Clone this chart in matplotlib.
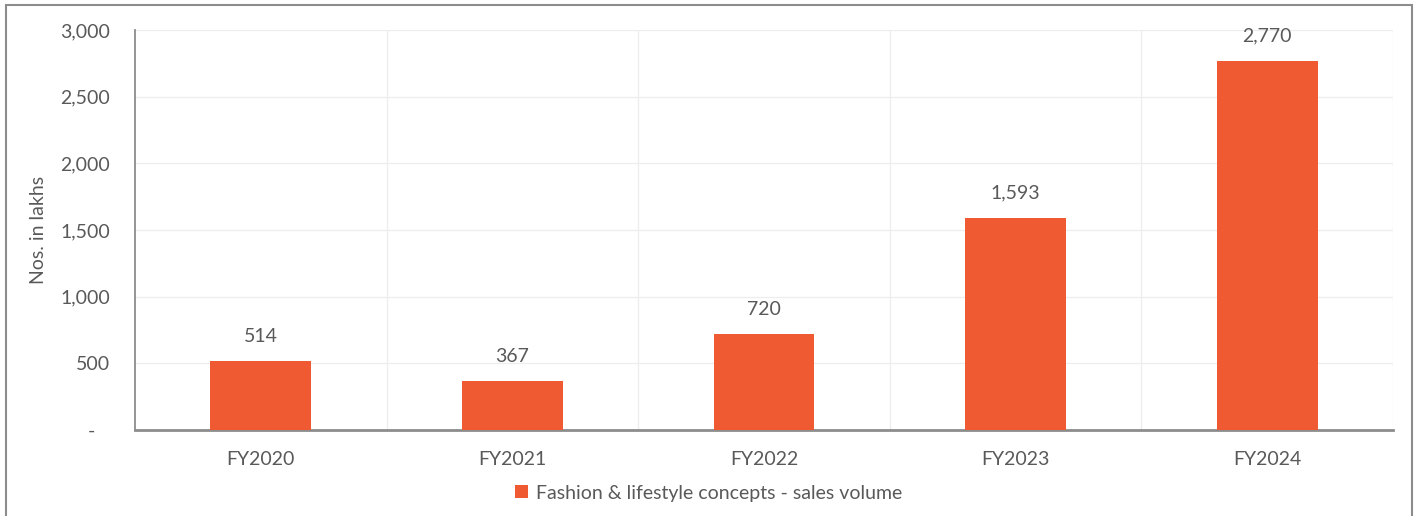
import matplotlib
matplotlib.use("Agg")
import matplotlib.pyplot as plt
from matplotlib.patches import Rectangle
import numpy as np

years = ["FY2020", "FY2021", "FY2022", "FY2023", "FY2024"]
volume = [514, 367, 720, 1593, 2770]
series_name = "Fashion & lifestyle concepts - sales volume"

plt.rcParams["font.family"] = ["Lato", "DejaVu Sans"]
text_col = "#595959"
bar_col = "#EF5A32"
fs = 14

fig = plt.figure(figsize=(14.17, 5.16), dpi=100)
ax = fig.add_axes([135 / 1417, 1 - 430 / 516, (1393 - 135) / 1417, 400 / 516])

x = np.arange(len(years))
bars = ax.bar(x, volume, width=0.4, color=bar_col, zorder=3)

for xi, v in zip(x, volume):
    ax.annotate(f"{v:,}", (xi, v), xytext=(0, 11.5), textcoords="offset points",
                ha="center", va="bottom", fontsize=fs, color=text_col)

ax.set_xlim(-0.5, len(years) - 0.5)
ax.set_ylim(0, 3000)
ax.set_yticks(range(0, 3001, 500))
ax.set_yticklabels(["-   "] + [f"{t:,}" for t in range(500, 3001, 500)])
ax.set_xticks(x)
ax.set_xticklabels(years)
ax.tick_params(axis="both", length=0, labelsize=fs, colors=text_col)
ax.tick_params(axis="y", pad=18)
ax.tick_params(axis="x", pad=15)

# light grid: horizontal at ticks, vertical between categories
for t in range(500, 3001, 500):
    ax.axhline(t, color="#EDEDED", lw=0.9, zorder=0)
for b in np.arange(0.5, len(years) - 0.5, 1):
    ax.axvline(b, color="#EDEDED", lw=0.9, zorder=0)
ax.axvline(len(years) - 0.5, color="#EDEDED", lw=0.9, zorder=0)

for s in ["top", "right"]:
    ax.spines[s].set_visible(False)
ax.spines["left"].set_color("#8C8C8C")
ax.spines["left"].set_linewidth(1.3)
ax.spines["bottom"].set_color("#8C8C8C")
ax.spines["bottom"].set_linewidth(2)

ax.set_ylabel("Nos. in lakhs", fontsize=fs, color=text_col)
ax.yaxis.set_label_coords(-88 / 1258, 0.5)

leg = fig.legend([bars], [series_name], loc="center", bbox_to_anchor=(0.5, 1 - 493 / 516),
                 frameon=False, fontsize=fs, handlelength=0.65, handleheight=0.65,
                 handletextpad=0.4, labelcolor=text_col)

# outer chart-area border
fig.patches.append(Rectangle((6 / 1417, -0.05), (1412 - 6) / 1417, 1 - 5 / 516 + 0.05,
                             transform=fig.transFigure, fill=False,
                             edgecolor="#8C8C8C", lw=1.5))

fig.savefig("out.png", dpi=100)
